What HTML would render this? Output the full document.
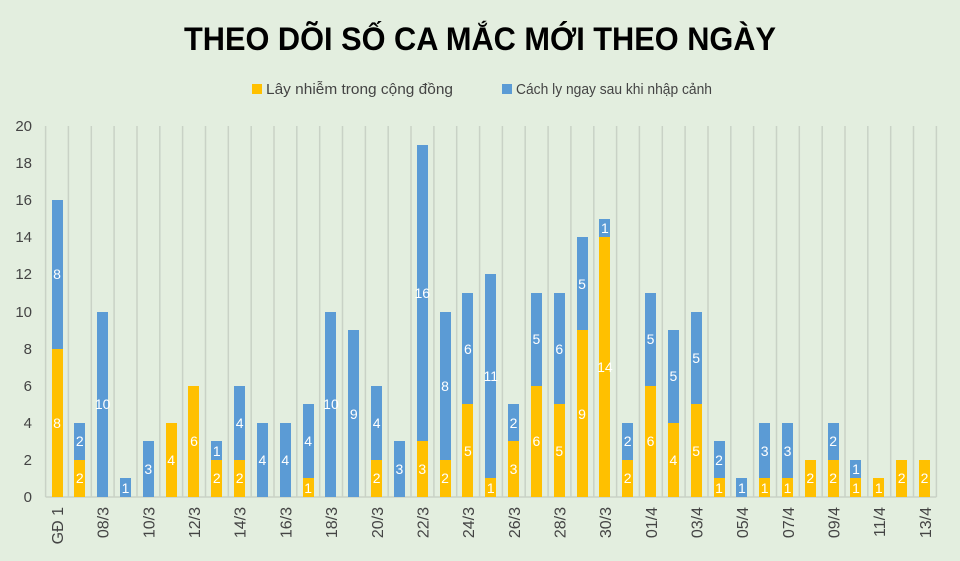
<!DOCTYPE html>
<html><head><meta charset="utf-8"><style>
body{margin:0;width:960px;height:561px;overflow:hidden;background:#e3eedf;font-family:"Liberation Sans",sans-serif;position:relative}
svg{position:absolute;left:0;top:0}
#bars{position:absolute;left:45.6px;top:0;height:497px;display:flex;align-items:flex-end}
.c{width:22.84px;height:497px;display:flex;flex-direction:column-reverse;align-items:center}
.c i,.c b{display:flex;align-items:center;justify-content:center;width:11px;height:calc(var(--v)*18.55px);color:#fff;font-style:normal;font-weight:normal;font-size:14px;overflow:visible;white-space:nowrap}
.c i{background:#ffc000}.c b{background:#5b9bd5}
</style></head><body>
<svg width="960" height="561">
<rect x="0" y="0" width="960" height="561" fill="#e3eedf"/>
<text x="480" y="50" text-anchor="middle" font-size="32" font-weight="bold" fill="#000" textLength="592" lengthAdjust="spacingAndGlyphs">THEO DÕI SỐ CA MẮC MỚI THEO NGÀY</text>
<rect x="252" y="84" width="10" height="10" fill="#ffc000"/>
<text x="266" y="94" font-size="14.5" fill="#444" textLength="187" lengthAdjust="spacingAndGlyphs">Lây nhiễm trong cộng đồng</text>
<rect x="502" y="84" width="10" height="10" fill="#5b9bd5"/>
<text x="516" y="94" font-size="14.5" fill="#444" textLength="196" lengthAdjust="spacingAndGlyphs">Cách ly ngay sau khi nhập cảnh</text>
<g stroke="#c9d2c6" stroke-width="1.5">
<line x1="45.6" y1="126" x2="45.6" y2="497"/><line x1="68.4" y1="126" x2="68.4" y2="497"/><line x1="91.3" y1="126" x2="91.3" y2="497"/><line x1="114.1" y1="126" x2="114.1" y2="497"/><line x1="137" y1="126" x2="137" y2="497"/><line x1="159.8" y1="126" x2="159.8" y2="497"/><line x1="182.6" y1="126" x2="182.6" y2="497"/><line x1="205.5" y1="126" x2="205.5" y2="497"/><line x1="228.3" y1="126" x2="228.3" y2="497"/><line x1="251.2" y1="126" x2="251.2" y2="497"/><line x1="274" y1="126" x2="274" y2="497"/><line x1="296.8" y1="126" x2="296.8" y2="497"/><line x1="319.7" y1="126" x2="319.7" y2="497"/><line x1="342.5" y1="126" x2="342.5" y2="497"/><line x1="365.4" y1="126" x2="365.4" y2="497"/><line x1="388.2" y1="126" x2="388.2" y2="497"/><line x1="411" y1="126" x2="411" y2="497"/><line x1="433.9" y1="126" x2="433.9" y2="497"/><line x1="456.7" y1="126" x2="456.7" y2="497"/><line x1="479.6" y1="126" x2="479.6" y2="497"/><line x1="502.4" y1="126" x2="502.4" y2="497"/><line x1="525.2" y1="126" x2="525.2" y2="497"/><line x1="548.1" y1="126" x2="548.1" y2="497"/><line x1="570.9" y1="126" x2="570.9" y2="497"/><line x1="593.8" y1="126" x2="593.8" y2="497"/><line x1="616.6" y1="126" x2="616.6" y2="497"/><line x1="639.4" y1="126" x2="639.4" y2="497"/><line x1="662.3" y1="126" x2="662.3" y2="497"/><line x1="685.1" y1="126" x2="685.1" y2="497"/><line x1="708" y1="126" x2="708" y2="497"/><line x1="730.8" y1="126" x2="730.8" y2="497"/><line x1="753.6" y1="126" x2="753.6" y2="497"/><line x1="776.5" y1="126" x2="776.5" y2="497"/><line x1="799.3" y1="126" x2="799.3" y2="497"/><line x1="822.2" y1="126" x2="822.2" y2="497"/><line x1="845" y1="126" x2="845" y2="497"/><line x1="867.8" y1="126" x2="867.8" y2="497"/><line x1="890.7" y1="126" x2="890.7" y2="497"/><line x1="913.5" y1="126" x2="913.5" y2="497"/><line x1="936.4" y1="126" x2="936.4" y2="497"/>
<line x1="45.6" y1="497" x2="936.4" y2="497"/>
</g>
<g font-size="15" fill="#444" text-anchor="end">
<text x="32" y="502">0</text><text x="32" y="465">2</text><text x="32" y="428">4</text><text x="32" y="391">6</text><text x="32" y="354">8</text><text x="32" y="317">10</text><text x="32" y="279">12</text><text x="32" y="242">14</text><text x="32" y="205">16</text><text x="32" y="168">18</text><text x="32" y="131">20</text>
</g>
<g font-size="16" fill="#444" text-anchor="end">
<text transform="translate(63,507) rotate(-90)">GĐ 1</text>
<text transform="translate(108.7,507) rotate(-90)">08/3</text>
<text transform="translate(154.4,507) rotate(-90)">10/3</text>
<text transform="translate(200,507) rotate(-90)">12/3</text>
<text transform="translate(245.7,507) rotate(-90)">14/3</text>
<text transform="translate(291.4,507) rotate(-90)">16/3</text>
<text transform="translate(337.1,507) rotate(-90)">18/3</text>
<text transform="translate(382.8,507) rotate(-90)">20/3</text>
<text transform="translate(428.4,507) rotate(-90)">22/3</text>
<text transform="translate(474.1,507) rotate(-90)">24/3</text>
<text transform="translate(519.8,507) rotate(-90)">26/3</text>
<text transform="translate(565.5,507) rotate(-90)">28/3</text>
<text transform="translate(611.2,507) rotate(-90)">30/3</text>
<text transform="translate(656.8,507) rotate(-90)">01/4</text>
<text transform="translate(702.5,507) rotate(-90)">03/4</text>
<text transform="translate(748.2,507) rotate(-90)">05/4</text>
<text transform="translate(793.9,507) rotate(-90)">07/4</text>
<text transform="translate(839.6,507) rotate(-90)">09/4</text>
<text transform="translate(885.2,507) rotate(-90)">11/4</text>
<text transform="translate(930.9,507) rotate(-90)">13/4</text>
</g>
</svg>
<div id="bars">
<div class="c"><i style="--v:8">8</i><b style="--v:8">8</b></div>
<div class="c"><i style="--v:2">2</i><b style="--v:2">2</b></div>
<div class="c"><b style="--v:10">10</b></div>
<div class="c"><b style="--v:1">1</b></div>
<div class="c"><b style="--v:3">3</b></div>
<div class="c"><i style="--v:4">4</i></div>
<div class="c"><i style="--v:6">6</i></div>
<div class="c"><i style="--v:2">2</i><b style="--v:1">1</b></div>
<div class="c"><i style="--v:2">2</i><b style="--v:4">4</b></div>
<div class="c"><b style="--v:4">4</b></div>
<div class="c"><b style="--v:4">4</b></div>
<div class="c"><i style="--v:1">1</i><b style="--v:4">4</b></div>
<div class="c"><b style="--v:10">10</b></div>
<div class="c"><b style="--v:9">9</b></div>
<div class="c"><i style="--v:2">2</i><b style="--v:4">4</b></div>
<div class="c"><b style="--v:3">3</b></div>
<div class="c"><i style="--v:3">3</i><b style="--v:16">16</b></div>
<div class="c"><i style="--v:2">2</i><b style="--v:8">8</b></div>
<div class="c"><i style="--v:5">5</i><b style="--v:6">6</b></div>
<div class="c"><i style="--v:1">1</i><b style="--v:11">11</b></div>
<div class="c"><i style="--v:3">3</i><b style="--v:2">2</b></div>
<div class="c"><i style="--v:6">6</i><b style="--v:5">5</b></div>
<div class="c"><i style="--v:5">5</i><b style="--v:6">6</b></div>
<div class="c"><i style="--v:9">9</i><b style="--v:5">5</b></div>
<div class="c"><i style="--v:14">14</i><b style="--v:1">1</b></div>
<div class="c"><i style="--v:2">2</i><b style="--v:2">2</b></div>
<div class="c"><i style="--v:6">6</i><b style="--v:5">5</b></div>
<div class="c"><i style="--v:4">4</i><b style="--v:5">5</b></div>
<div class="c"><i style="--v:5">5</i><b style="--v:5">5</b></div>
<div class="c"><i style="--v:1">1</i><b style="--v:2">2</b></div>
<div class="c"><b style="--v:1">1</b></div>
<div class="c"><i style="--v:1">1</i><b style="--v:3">3</b></div>
<div class="c"><i style="--v:1">1</i><b style="--v:3">3</b></div>
<div class="c"><i style="--v:2">2</i></div>
<div class="c"><i style="--v:2">2</i><b style="--v:2">2</b></div>
<div class="c"><i style="--v:1">1</i><b style="--v:1">1</b></div>
<div class="c"><i style="--v:1">1</i></div>
<div class="c"><i style="--v:2">2</i></div>
<div class="c"><i style="--v:2">2</i></div>
</div>
</body></html>
